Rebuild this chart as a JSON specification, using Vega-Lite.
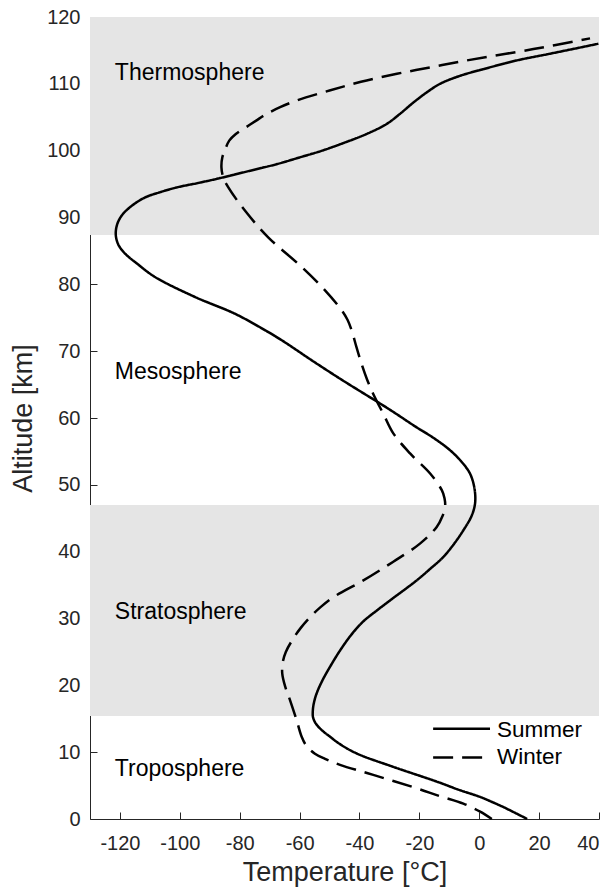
{
  "$schema": "https://vega.github.io/schema/vega-lite/v6.json",
  "width": 509,
  "height": 802,
  "autosize": {"type": "none"},
  "padding": {"left": 90, "top": 17, "right": 11, "bottom": 71},
  "config": {
    "view": {"stroke": null},
    "font": "Liberation Sans",
    "axis": {
      "domainColor": "#262626",
      "tickColor": "#262626",
      "labelColor": "#262626",
      "titleColor": "#262626",
      "grid": false,
      "labelFont": "Liberation Sans",
      "titleFont": "Liberation Sans",
      "titleFontWeight": "normal"
    }
  },
  "datasets": {
    "profiles": [
      {"season": "Summer", "alt": 0, "temp": 16},
      {"season": "Summer", "alt": 0.8, "temp": 12.5},
      {"season": "Summer", "alt": 1.8, "temp": 8},
      {"season": "Summer", "alt": 2.6, "temp": 4},
      {"season": "Summer", "alt": 3.3, "temp": 0.3},
      {"season": "Summer", "alt": 4.4, "temp": -7},
      {"season": "Summer", "alt": 5.6, "temp": -14.2},
      {"season": "Summer", "alt": 7.8, "temp": -28.7},
      {"season": "Summer", "alt": 9.8, "temp": -40.9},
      {"season": "Summer", "alt": 11.2, "temp": -46.5},
      {"season": "Summer", "alt": 12.3, "temp": -49.8},
      {"season": "Summer", "alt": 13.3, "temp": -52.6},
      {"season": "Summer", "alt": 14.3, "temp": -54.6},
      {"season": "Summer", "alt": 15.2, "temp": -55.5},
      {"season": "Summer", "alt": 16.0, "temp": -55.6},
      {"season": "Summer", "alt": 17.2, "temp": -55.3},
      {"season": "Summer", "alt": 18.8, "temp": -54.3},
      {"season": "Summer", "alt": 20.8, "temp": -52.3},
      {"season": "Summer", "alt": 22.8, "temp": -49.8},
      {"season": "Summer", "alt": 25.0, "temp": -46.8},
      {"season": "Summer", "alt": 27.0, "temp": -43.7},
      {"season": "Summer", "alt": 28.5, "temp": -41.0},
      {"season": "Summer", "alt": 29.7, "temp": -38.4},
      {"season": "Summer", "alt": 31.2, "temp": -34.2},
      {"season": "Summer", "alt": 32.7, "temp": -29.8},
      {"season": "Summer", "alt": 35.7, "temp": -20.9},
      {"season": "Summer", "alt": 37.5, "temp": -16.2},
      {"season": "Summer", "alt": 39.2, "temp": -12.0},
      {"season": "Summer", "alt": 41.3, "temp": -8.2},
      {"season": "Summer", "alt": 43.2, "temp": -5.3},
      {"season": "Summer", "alt": 45.3, "temp": -2.6},
      {"season": "Summer", "alt": 47.2, "temp": -1.4},
      {"season": "Summer", "alt": 49.5, "temp": -1.6},
      {"season": "Summer", "alt": 51.7, "temp": -3.1},
      {"season": "Summer", "alt": 53.5, "temp": -6.0},
      {"season": "Summer", "alt": 55.2, "temp": -9.8},
      {"season": "Summer", "alt": 57.0, "temp": -15.2},
      {"season": "Summer", "alt": 58.6, "temp": -20.9},
      {"season": "Summer", "alt": 61.4, "temp": -30.4},
      {"season": "Summer", "alt": 65.6, "temp": -45.5},
      {"season": "Summer", "alt": 68.5, "temp": -55.5},
      {"season": "Summer", "alt": 71.5, "temp": -65.5},
      {"season": "Summer", "alt": 73.0, "temp": -71.0},
      {"season": "Summer", "alt": 75.6, "temp": -81.6},
      {"season": "Summer", "alt": 78.1, "temp": -94.9},
      {"season": "Summer", "alt": 81.1, "temp": -108.3},
      {"season": "Summer", "alt": 83.0, "temp": -114.0},
      {"season": "Summer", "alt": 84.6, "temp": -118.3},
      {"season": "Summer", "alt": 86.0, "temp": -120.6},
      {"season": "Summer", "alt": 87.5, "temp": -121.4},
      {"season": "Summer", "alt": 89.0, "temp": -120.9},
      {"season": "Summer", "alt": 90.3, "temp": -119.4},
      {"season": "Summer", "alt": 91.7, "temp": -116.2},
      {"season": "Summer", "alt": 93.0, "temp": -111.6},
      {"season": "Summer", "alt": 93.8, "temp": -106.5},
      {"season": "Summer", "alt": 94.5, "temp": -101.0},
      {"season": "Summer", "alt": 95.2, "temp": -93.5},
      {"season": "Summer", "alt": 95.9, "temp": -86.5},
      {"season": "Summer", "alt": 97.0, "temp": -76.5},
      {"season": "Summer", "alt": 98.0, "temp": -67.5},
      {"season": "Summer", "alt": 99.0, "temp": -59.9},
      {"season": "Summer", "alt": 100.0, "temp": -52.5},
      {"season": "Summer", "alt": 101.2, "temp": -45.0},
      {"season": "Summer", "alt": 102.5, "temp": -37.6},
      {"season": "Summer", "alt": 104.0, "temp": -30.9},
      {"season": "Summer", "alt": 105.5, "temp": -26.5},
      {"season": "Summer", "alt": 107.2, "temp": -22.0},
      {"season": "Summer", "alt": 108.7, "temp": -17.6},
      {"season": "Summer", "alt": 110.0, "temp": -13.1},
      {"season": "Summer", "alt": 111.2, "temp": -6.4},
      {"season": "Summer", "alt": 112.2, "temp": 1.4},
      {"season": "Summer", "alt": 113.5, "temp": 12.5},
      {"season": "Summer", "alt": 114.5, "temp": 23.6},
      {"season": "Summer", "alt": 116.0, "temp": 39.8},
      {"season": "Winter", "alt": 0, "temp": 4.2},
      {"season": "Winter", "alt": 1.1, "temp": 0.3},
      {"season": "Winter", "alt": 2.3, "temp": -5.3},
      {"season": "Winter", "alt": 3.4, "temp": -13.0},
      {"season": "Winter", "alt": 4.6, "temp": -20.9},
      {"season": "Winter", "alt": 6.6, "temp": -35.4},
      {"season": "Winter", "alt": 8.1, "temp": -46.5},
      {"season": "Winter", "alt": 9.0, "temp": -51.5},
      {"season": "Winter", "alt": 9.8, "temp": -55.0},
      {"season": "Winter", "alt": 11.0, "temp": -57.8},
      {"season": "Winter", "alt": 12.3, "temp": -59.3},
      {"season": "Winter", "alt": 14.8, "temp": -61.0},
      {"season": "Winter", "alt": 17.8, "temp": -63.2},
      {"season": "Winter", "alt": 19.8, "temp": -64.8},
      {"season": "Winter", "alt": 21.8, "temp": -65.8},
      {"season": "Winter", "alt": 23.5, "temp": -65.6},
      {"season": "Winter", "alt": 25.0, "temp": -64.6},
      {"season": "Winter", "alt": 27.0, "temp": -62.1},
      {"season": "Winter", "alt": 28.6, "temp": -59.6},
      {"season": "Winter", "alt": 30.2, "temp": -56.5},
      {"season": "Winter", "alt": 31.7, "temp": -53.0},
      {"season": "Winter", "alt": 33.2, "temp": -48.7},
      {"season": "Winter", "alt": 35.7, "temp": -38.7},
      {"season": "Winter", "alt": 38.5, "temp": -28.7},
      {"season": "Winter", "alt": 41.2, "temp": -19.8},
      {"season": "Winter", "alt": 43.7, "temp": -14.2},
      {"season": "Winter", "alt": 45.3, "temp": -12.3},
      {"season": "Winter", "alt": 46.7, "temp": -11.4},
      {"season": "Winter", "alt": 48.0, "temp": -11.6},
      {"season": "Winter", "alt": 49.2, "temp": -12.5},
      {"season": "Winter", "alt": 51.7, "temp": -16.4},
      {"season": "Winter", "alt": 54.7, "temp": -23.1},
      {"season": "Winter", "alt": 57.7, "temp": -28.7},
      {"season": "Winter", "alt": 60.6, "temp": -32.0},
      {"season": "Winter", "alt": 63.6, "temp": -35.4},
      {"season": "Winter", "alt": 65.8, "temp": -37.5},
      {"season": "Winter", "alt": 68.1, "temp": -39.3},
      {"season": "Winter", "alt": 70.6, "temp": -41.0},
      {"season": "Winter", "alt": 73.1, "temp": -42.6},
      {"season": "Winter", "alt": 74.7, "temp": -44.0},
      {"season": "Winter", "alt": 76.1, "temp": -45.9},
      {"season": "Winter", "alt": 79.1, "temp": -51.5},
      {"season": "Winter", "alt": 82.6, "temp": -59.3},
      {"season": "Winter", "alt": 87.0, "temp": -70.4},
      {"season": "Winter", "alt": 91.0, "temp": -78.2},
      {"season": "Winter", "alt": 94.5, "temp": -83.8},
      {"season": "Winter", "alt": 96.0, "temp": -85.5},
      {"season": "Winter", "alt": 97.5, "temp": -86.1},
      {"season": "Winter", "alt": 99.0, "temp": -85.8},
      {"season": "Winter", "alt": 100.0, "temp": -85.0},
      {"season": "Winter", "alt": 101.5, "temp": -83.5},
      {"season": "Winter", "alt": 102.5, "temp": -81.3},
      {"season": "Winter", "alt": 103.5, "temp": -77.9},
      {"season": "Winter", "alt": 104.5, "temp": -74.5},
      {"season": "Winter", "alt": 105.5, "temp": -71.0},
      {"season": "Winter", "alt": 106.5, "temp": -66.5},
      {"season": "Winter", "alt": 107.5, "temp": -61.0},
      {"season": "Winter", "alt": 109.0, "temp": -50.0},
      {"season": "Winter", "alt": 110.3, "temp": -39.5},
      {"season": "Winter", "alt": 111.5, "temp": -27.5},
      {"season": "Winter", "alt": 112.5, "temp": -16.0},
      {"season": "Winter", "alt": 113.5, "temp": -4.2},
      {"season": "Winter", "alt": 115.2, "temp": 18.1},
      {"season": "Winter", "alt": 116.8, "temp": 37.0}
    ],
    "bands": [
      {"layer": "Thermosphere", "bottom": 87.4, "top": 120},
      {"layer": "Stratosphere", "bottom": 15.4, "top": 47.0}
    ],
    "labels": [
      {"layer": "Thermosphere", "alt": 110.6},
      {"layer": "Mesosphere", "alt": 65.9},
      {"layer": "Stratosphere", "alt": 30.0},
      {"layer": "Troposphere", "alt": 6.4}
    ],
    "summerKey": [{"season": "Summer"}],
    "winterKey": [{"season": "Winter"}]
  },
  "layer": [
    {
      "data": {"name": "bands"},
      "mark": {"type": "rect", "color": "#e5e5e5"},
      "encoding": {
        "x": {"datum": -130, "type": "quantitative", "scale": {"domain": [-130, 40], "nice": false}},
        "x2": {"datum": 40},
        "y": {"field": "bottom", "type": "quantitative", "scale": {"domain": [0, 120], "nice": false}},
        "y2": {"field": "top"}
      }
    },
    {
      "data": {"name": "labels"},
      "mark": {"type": "text", "align": "left", "baseline": "alphabetic", "fontSize": 23, "font": "Liberation Sans", "color": "#000000"},
      "encoding": {
        "x": {"datum": -121.7, "type": "quantitative"},
        "y": {"field": "alt", "type": "quantitative"},
        "text": {"field": "layer"}
      }
    },
    {
      "data": {"name": "profiles"},
      "mark": {"type": "line", "color": "#000000", "strokeWidth": 2.5, "interpolate": "catmull-rom"},
      "encoding": {
        "x": {
          "field": "temp", "type": "quantitative",
          "scale": {"domain": [-130, 40], "nice": false},
          "axis": {
            "title": "Temperature [°C]",
            "values": [-120, -100, -80, -60, -40, -20, 0, 20, 40],
            "labelExpr": "'' + datum.value",
            "tickSize": -7,
            "labelFontSize": 20,
            "labelPadding": 21,
            "titleFontSize": 27,
            "titlePadding": 6
          }
        },
        "y": {
          "field": "alt", "type": "quantitative",
          "scale": {"domain": [0, 120], "nice": false},
          "axis": {
            "title": "Altitude [km]",
            "values": [0, 10, 20, 30, 40, 50, 60, 70, 80, 90, 100, 110, 120],
            "labelExpr": "'' + datum.value",
            "tickSize": -7,
            "labelFontSize": 20,
            "labelPadding": 17,
            "titleFontSize": 27,
            "titlePadding": 9
          }
        },
        "order": {"field": "alt", "type": "quantitative"},
        "strokeDash": {
          "field": "season", "type": "nominal",
          "scale": {"domain": ["Summer", "Winter"], "range": [[1, 0], [20, 9]]},
          "legend": null
        }
      }
    },
    {
      "data": {"name": "summerKey"},
      "mark": {"type": "rule", "color": "#000000", "strokeWidth": 2.5},
      "encoding": {
        "x": {"datum": -15.4, "type": "quantitative"},
        "x2": {"datum": 3.6},
        "y": {"datum": 13.5, "type": "quantitative"}
      }
    },
    {
      "data": {"name": "winterKey"},
      "mark": {"type": "rule", "color": "#000000", "strokeWidth": 2.5, "strokeDash": [20, 9]},
      "encoding": {
        "x": {"datum": -15.4, "type": "quantitative"},
        "x2": {"datum": 3.6},
        "y": {"datum": 9.2, "type": "quantitative"}
      }
    },
    {
      "data": {"name": "summerKey"},
      "mark": {"type": "text", "align": "left", "baseline": "alphabetic", "fontSize": 22.5, "font": "Liberation Sans", "color": "#000000"},
      "encoding": {
        "x": {"datum": 5.9, "type": "quantitative"},
        "y": {"datum": 12.3, "type": "quantitative"},
        "text": {"field": "season"}
      }
    },
    {
      "data": {"name": "winterKey"},
      "mark": {"type": "text", "align": "left", "baseline": "alphabetic", "fontSize": 22.5, "font": "Liberation Sans", "color": "#000000"},
      "encoding": {
        "x": {"datum": 5.9, "type": "quantitative"},
        "y": {"datum": 8.2, "type": "quantitative"},
        "text": {"field": "season"}
      }
    }
  ]
}
